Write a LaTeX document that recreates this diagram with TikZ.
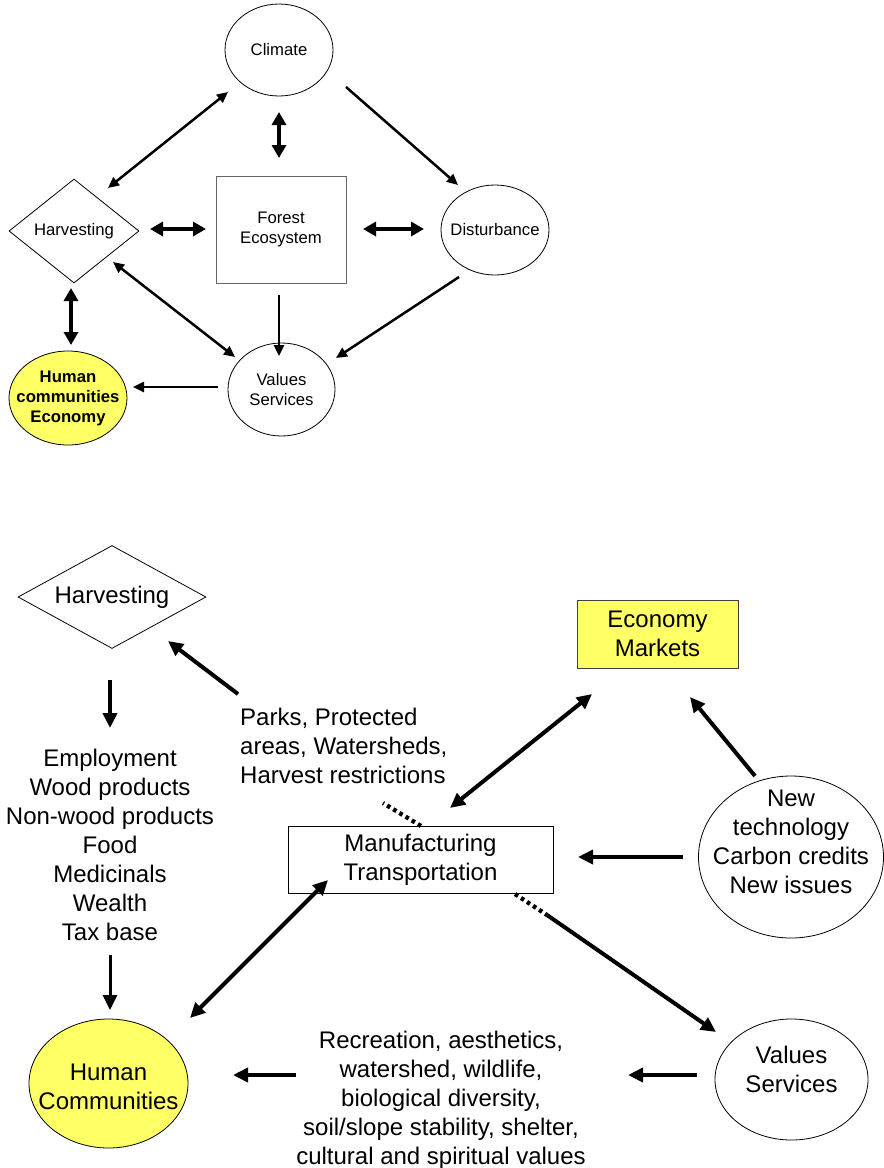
\documentclass[tikz,border=0pt]{standalone}
\usepackage{fontspec}
\setmainfont{Liberation Sans}
\usetikzlibrary{arrows.meta,shapes.geometric}
\definecolor{hiyellow}{RGB}{255,255,102}

\begin{document}
\begin{tikzpicture}[x=1pt,y=-1pt,
  small/.style={font=\fontsize{16.7}{20}\selectfont, align=center},
  big/.style={font=\fontsize{24}{29}\selectfont, align=center},
  oval/.style={ellipse, draw, line width=0.8pt, inner sep=0pt},
  boxnode/.style={rectangle, draw, line width=0.9pt, inner sep=0pt},
  thinarr/.style={line width=2.5pt, >={Triangle[length=11pt,width=10pt]}},
  fatarr/.style={line width=4.3pt, >={Triangle[length=13pt,width=14pt]}},
  bigarr/.style={line width=4pt, >={Triangle[length=15pt,width=14pt]}},
  dotline/.style={line width=4.3pt, dash pattern=on 3.6pt off 3.6pt},
]
\useasboundingbox (0,0) rectangle (884,1168);

% ---------------- upper diagram ----------------
\node[oval, minimum width=108pt, minimum height=92pt,
      label={[small]center:Climate}] (clim) at (279,50) {};
\node[boxnode, draw=black!60, small, minimum width=130pt, minimum height=107pt]
      (forest) at (281,229.5) {Forest\\Ecosystem};
\node[diamond, draw, line width=0.8pt, aspect=1.25, inner sep=0pt, small,
      minimum width=130pt, minimum height=104pt] (harv) at (74,231) {Harvesting};
\node[oval, minimum width=108pt, minimum height=90pt,
      label={[small]center:Disturbance}] (dist) at (495,230) {};
\node[oval, minimum width=107pt, minimum height=93pt,
      label={[small]center:Values\\Services}] (vals) at (281.5,389.5) {};
\node[oval, fill=hiyellow, minimum width=118pt, minimum height=94pt,
      label={[small, font=\fontsize{16.7}{20}\selectfont\bfseries]center:Human\\communities\\Economy}]
      (hum) at (68,398) {};

\draw[thinarr,<->] ([shift={(-51,42)}]clim.center) -- ([shift={(34,-43)}]harv.center);
\draw[fatarr,<->] ([shift={(0,62)}]clim.center) -- ([shift={(-2,-71.5)}]forest.center);
\draw[thinarr,->] ([shift={(67,37)}]clim.center) -- ([shift={(-37,-45)}]dist.center);
\draw[fatarr,<->] ([shift={(76,-2)}]harv.center) -- ([shift={(-75,-0.5)}]forest.center);
\draw[fatarr,<->] ([shift={(82,-0.5)}]forest.center) -- ([shift={(-71,-1)}]dist.center);
\draw[thinarr,<->] ([shift={(39,31)}]harv.center) -- ([shift={(-46.5,-32.5)}]vals.center);
\draw[thinarr,->] ([shift={(-2,65.5)}]forest.center) -- ([shift={(-2.5,-33.5)}]vals.center);
\draw[thinarr,->] ([shift={(-36,47)}]dist.center) -- ([shift={(54.5,-31.5)}]vals.center);
\draw[fatarr,<->] ([shift={(-3,57)}]harv.center) -- ([shift={(3,-53)}]hum.center);
\draw[thinarr,->] ([shift={(-63.5,-2.5)}]vals.center) -- ([shift={(65,-11)}]hum.center);

% ---------------- lower diagram ----------------
\node[diamond, draw, line width=0.8pt, aspect=2, inner sep=0pt, big,
      minimum width=188pt, minimum height=103pt] (harv2) at (112,597) {Harvesting};
\node[boxnode, fill=hiyellow, draw=black!75, big, minimum width=161pt, minimum height=68pt]
      (econ) at (657.5,634) {Economy\\Markets};
\node[boxnode, big, minimum width=265pt, minimum height=67pt]
      (manu) at (420.5,859.5) {Manufacturing\\Transportation};
\node[oval, minimum width=185pt, minimum height=162pt,
      label={[big, yshift=15.5pt]center:New\\technology\\Carbon credits\\New issues}]
      (newt) at (791,857) {};
\node[oval, fill=hiyellow, minimum width=159pt, minimum height=129pt,
      label={[big, yshift=-3pt]center:Human\\Communities}] (human2) at (108.5,1083.5) {};
\node[oval, minimum width=153pt, minimum height=121pt,
      label={[big, yshift=10pt]center:Values\\Services}] (vals2) at (791.5,1079.5) {};

\node[big, align=left, anchor=west, inner sep=0pt] (parks) at (240,745.5)
      {Parks, Protected\\areas, Watersheds,\\Harvest restrictions};
\node[big, inner sep=0pt] (list) at (110,844.5)
      {Employment\\Wood products\\Non-wood products\\Food\\Medicinals\\Wealth\\Tax base};
\node[big, inner sep=0pt] (rec) at (441,1100)
      {Recreation, aesthetics,\\watershed, wildlife,\\biological diversity,\\soil/slope stability, shelter,\\cultural and spiritual values};

\coordinate (brk) at ([shift={(126.5,55.5)}]manu.center);

\draw[bigarr,->] ([shift={(-2,-51.5)}]parks.west) -- ([shift={(56,44)}]harv2.center);
\draw[bigarr,->] ([shift={(-2,83)}]harv2.center) -- ([shift={(0,-116.5)}]list.center);
\draw[bigarr,line width=3pt,->] ([shift={(0,110.5)}]list.center) -- ([shift={(1.5,-73.5)}]human2.center);
\draw[bigarr,<->] ([shift={(29.5,-51.5)}]manu.center) -- ([shift={(-65.5,60)}]econ.center);
\draw[bigarr,->] ([shift={(-36,-81)}]newt.center) -- ([shift={(32.5,63)}]econ.center);
\draw[bigarr,->] ([shift={(-108,0)}]newt.center) -- ([shift={(157.5,-2.5)}]manu.center);
\draw[bigarr,<->] ([shift={(-92.5,20.5)}]manu.center) -- ([shift={(81.5,-65.5)}]human2.center);
\draw[dotline] ([shift={(94.5,34.5)}]manu.center) -- (brk);
\draw[bigarr,->] (brk) -- ([shift={(-75.5,-47.5)}]vals2.center);
\draw[dotline] ([shift={(0.5,-33.5)}]manu.center) -- ([shift={(143,57.5)}]parks.west);
\draw[bigarr,->] ([shift={(-94.5,-4.5)}]vals2.center) -- ([shift={(187,-25)}]rec.center);
\draw[bigarr,->] ([shift={(-145,-25)}]rec.center) -- ([shift={(124.5,-8.5)}]human2.center);
\end{tikzpicture}
\end{document}
